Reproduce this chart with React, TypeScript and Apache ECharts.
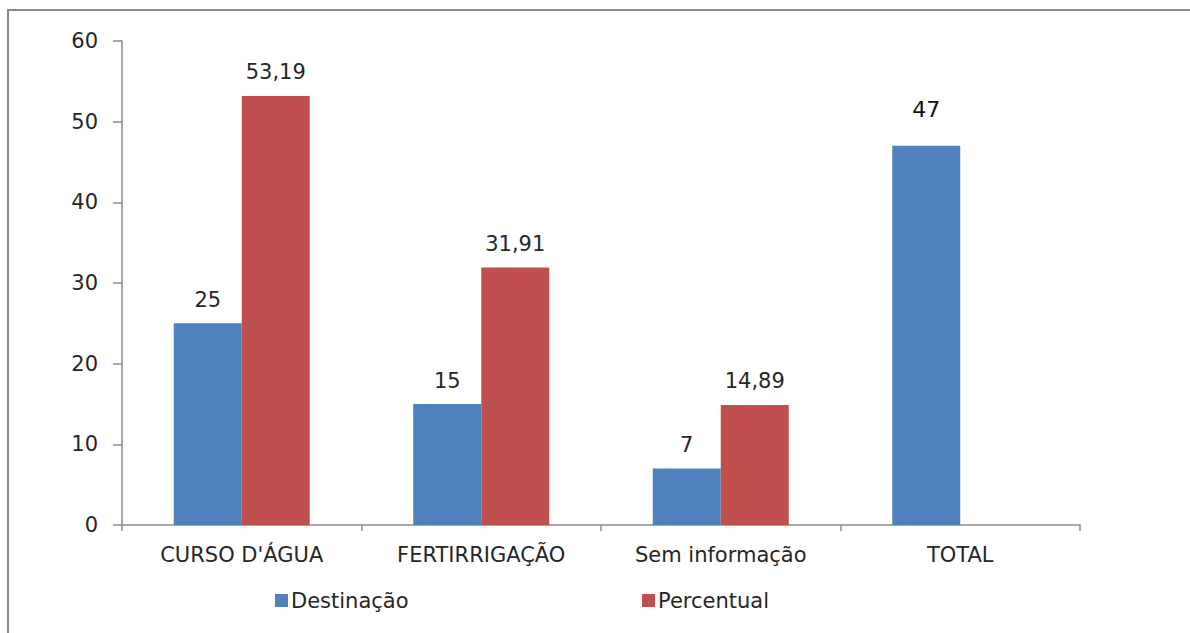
import React, { useEffect, useRef } from "react";
import * as echarts from "echarts";

const categories = ["CURSO D'ÁGUA", "FERTIRRIGAÇÃO", "Sem informação", "TOTAL"];
const destinacao = [25, 15, 7, 47];
const percentual: (number | string)[] = [53.19, 31.91, 14.89, "-"];
const yTicks = { min: 0, max: 60, interval: 10 };

const FONT = '"DejaVu Sans", Verdana, sans-serif';
const BLUE = "#4F81BD";
const RED = "#C0504D";
const TEXT = "#262626";
const AXIS = "#8c8c8c";

const fmt = (v: number) => v.toFixed(2).replace(".", ",");

export default function App() {
  const ref = useRef<HTMLDivElement>(null);

  useEffect(() => {
    if (!ref.current) return;
    const chart = echarts.init(ref.current, undefined, { renderer: "svg" });

    const destData = destinacao.map((v, i) =>
      i === destinacao.length - 1
        ? { value: v, label: { fontSize: 22, distance: 25, color: "#111" } }
        : { value: v }
    );

    const legendBase = {
      top: 585,
      itemWidth: 13,
      itemHeight: 13,
      itemGap: 7,
      icon: "rect",
      textStyle: { fontFamily: FONT, fontSize: 21, color: TEXT, padding: [0, 0, 0, -2] },
    };

    chart.setOption({
      animation: false,
      backgroundColor: "#ffffff",
      graphic: [
        {
          type: "rect",
          shape: { x: 8, y: 10, width: 1300, height: 700 },
          style: { fill: "none", stroke: "#8a8a8a", lineWidth: 2 },
          silent: true,
        },
      ],
      grid: { left: 122, right: 110, top: 41, bottom: 108 },
      legend: [
        { ...legendBase, data: ["Destinação"], left: 270 },
        { ...legendBase, data: ["Percentual"], left: 637 },
      ],
      xAxis: {
        type: "category",
        data: categories,
        axisLine: { lineStyle: { color: AXIS, width: 1.5 } },
        axisTick: { show: true, length: 6, lineStyle: { color: AXIS, width: 1.5 } },
        axisLabel: { fontFamily: FONT, fontSize: 21, color: TEXT, margin: 19 },
        splitLine: { show: false },
      },
      yAxis: {
        type: "value",
        min: yTicks.min,
        max: yTicks.max,
        interval: yTicks.interval,
        axisLine: { show: true, lineStyle: { color: AXIS, width: 1.5 } },
        axisTick: { show: true, length: 9, lineStyle: { color: AXIS, width: 1.5 } },
        axisLabel: { fontFamily: FONT, fontSize: 21, color: TEXT, margin: 24 },
        splitLine: { show: false },
      },
      series: [
        {
          name: "Destinação",
          type: "bar",
          data: destData,
          barWidth: 68,
          barGap: "0%",
          itemStyle: { color: BLUE },
          label: {
            show: true,
            position: "top",
            distance: 13,
            fontFamily: FONT,
            fontSize: 21,
            color: TEXT,
          },
        },
        {
          name: "Percentual",
          type: "bar",
          data: percentual,
          barWidth: 68,
          barGap: "0%",
          itemStyle: { color: RED },
          label: {
            show: true,
            position: "top",
            distance: 13,
            fontFamily: FONT,
            fontSize: 21,
            color: TEXT,
            formatter: (p: any) => (typeof p.value === "number" ? fmt(p.value) : ""),
          },
        },
      ],
    });

    return () => chart.dispose();
  }, []);

  return (
    <div
      ref={ref}
      style={{ position: "fixed", left: 0, top: 0, width: 1190, height: 633, background: "#fff" }}
    />
  );
}
